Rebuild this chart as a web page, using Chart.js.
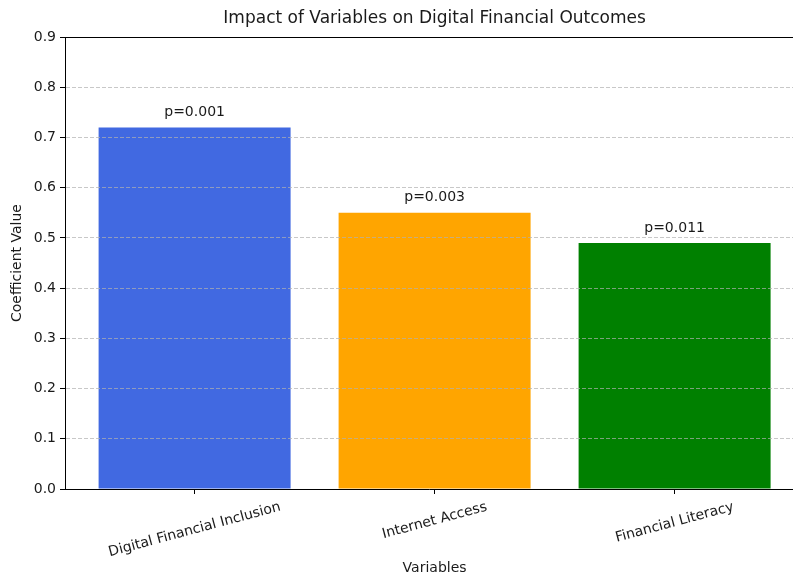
<!DOCTYPE html>
<html lang="en">
<head>
  <meta charset="UTF-8" />
  <title>Impact of Variables on Digital Financial Outcomes</title>
  <script src="https://cdn.jsdelivr.net/npm/chart.js"></script>
  <style>
    * { margin: 0; padding: 0; box-sizing: border-box; }
    body { background: #fff; overflow: hidden; }
  </style>
</head>
<body>
  <canvas id="barChart" width="793" height="577"></canvas>

  <script>
    const categories = ['Digital Financial Inclusion', 'Internet Access', 'Financial Literacy'];
    const coefficients = [0.72, 0.55, 0.49];
    const pLabels = ['p=0.001', 'p=0.003', 'p=0.011'];
    const barColors = ['#4169E1', '#FFA500', '#008000'];
    const yMin = 0, yMax = 0.9, yStep = 0.1;

    const FONT = "'DejaVu Sans', sans-serif";
    const TEXT = '#1a1a1a';

    // x range like matplotlib's default margins, clipped at the right edge of the picture
    const xMin = -0.54;
    const xMax = xMin + (793 - 65) / 240;

    // title, p-value notes, rotated category labels, x title and the top spine
    const annotate = {
      id: 'annotate',
      afterDraw(chart) {
        const { ctx, chartArea, scales: { x, y } } = chart;
        ctx.save();

        ctx.strokeStyle = '#000';
        ctx.lineWidth = 1;
        ctx.beginPath();
        ctx.moveTo(chartArea.left, chartArea.top + 0.5);
        ctx.lineTo(chartArea.right, chartArea.top + 0.5);
        ctx.stroke();

        const mid = x.getPixelForValue(1);
        ctx.fillStyle = TEXT;
        ctx.textAlign = 'center';

        ctx.font = '17px ' + FONT;
        ctx.textBaseline = 'middle';
        ctx.fillText('Impact of Variables on Digital Financial Outcomes', mid, 19);

        ctx.font = '14px ' + FONT;
        ctx.textBaseline = 'bottom';
        coefficients.forEach((v, i) => {
          ctx.fillText(pLabels[i], x.getPixelForValue(i), y.getPixelForValue(v) - 8);
        });

        const rot = 15 * Math.PI / 180;
        const top = chartArea.bottom + 10;
        ctx.textBaseline = 'middle';
        categories.forEach((c, i) => {
          const w = ctx.measureText(c).width;
          const h = w * Math.sin(rot) + 16 * Math.cos(rot);
          ctx.save();
          ctx.translate(x.getPixelForValue(i), top + h / 2);
          ctx.rotate(-rot);
          ctx.fillText(c, 0, 0);
          ctx.restore();
        });

        ctx.fillText('Variables', mid, 568);
        ctx.restore();
      }
    };

    new Chart(barChart, {
      type: 'bar',
      data: {
        datasets: [{
          data: categories.map((c, i) => ({ x: i, y: coefficients[i] })),
          backgroundColor: barColors,
          borderWidth: 0,
          inflateAmount: 0,
          barPercentage: 0.8,
          categoryPercentage: 1
        }]
      },
      options: {
        responsive: false,
        animation: false,
        layout: { padding: { top: 37, right: 0, bottom: 0, left: 0 } },
        plugins: { legend: { display: false }, tooltip: { enabled: false } },
        scales: {
          x: {
            type: 'linear',
            min: xMin,
            max: xMax,
            offset: false,
            afterBuildTicks: s => { s.ticks = categories.map((c, i) => ({ value: i })); },
            afterFit: s => { s.height = 88; },
            ticks: { display: false },
            grid: { offset: false, drawOnChartArea: false, drawTicks: true, tickLength: 5, color: '#000', tickColor: '#000' },
            border: { color: '#000', width: 1, z: 2 }
          },
          y: {
            min: yMin,
            max: yMax,
            afterFit: s => { s.width = 65; },
            ticks: {
              stepSize: yStep,
              callback: v => v.toFixed(1),
              color: TEXT,
              padding: 4,
              font: { family: FONT, size: 14 }
            },
            grid: { color: 'rgba(176,176,176,0.7)', tickColor: '#000', tickLength: 5, lineWidth: 1, z: 1 },
            border: { color: '#000', width: 1, dash: [4, 2], z: 2 },
            title: {
              display: true,
              text: 'Coefficient Value',
              color: TEXT,
              padding: { top: 9, bottom: 0 },
              font: { family: FONT, size: 14 }
            }
          }
        }
      },
      plugins: [annotate]
    });
  </script>
</body>
</html>
